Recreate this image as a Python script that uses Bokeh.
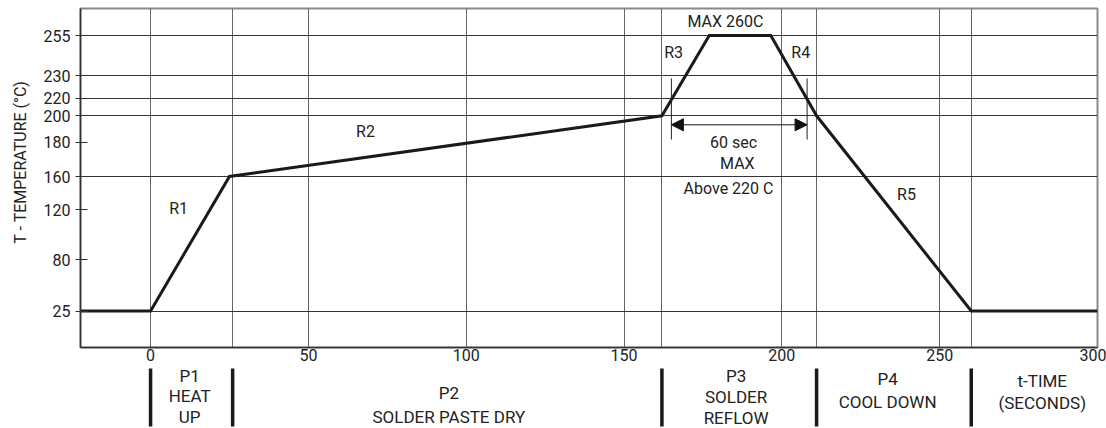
import numpy as np
from bokeh.plotting import figure
from bokeh.layouts import column
from bokeh.models import FixedTicker, Label, Arrow, NormalHead, Range1d, ColumnDataSource
from bokeh.embed import file_html
from bokeh.resources import INLINE

FONT = "Roboto"

# --- temperature axis: schematic (non-linear) scale ---
temp_ticks = [25, 80, 120, 160, 180, 200, 220, 230, 255]
temp_tick_pos = [36.5, 87.7, 137.7, 171.0, 205.3, 231.7, 249.3, 271.7, 312.0]
temp_grid = [25, 160, 200, 220, 230, 255]

# --- time axis ---
time_ticks = [0, 50, 100, 150, 200, 250, 300]
time_grid = [0, 26, 50, 100, 150, 162, 200, 211, 250, 260]

# --- reflow profile ---
profile_time = [-22.2, 0, 25, 162, 177, 196.5, 211, 260, 300]
profile_temp = [25, 25, 160, 200, 255, 255, 200, 25, 25]

# --- phases ---
phase_bounds = [0, 26, 162, 211, 260]
phase_labels = [
    (12.4, ["P1", "HEAT", "UP"]),
    (94.5, ["P2", "SOLDER PASTE DRY"]),
    (185.5, ["P3", "SOLDER", "REFLOW"]),
    (233.5, ["P4", "COOL DOWN"]),
    (282.5, ["t-TIME", "(SECONDS)"]),
]
phase_label_y = [[-28, -48.5, -69.5], [-45, -69], [-28.5, -49.5, -70.5], [-31, -54], [-33, -55.5]]

window_220 = [165.0, 208.0]   # time above 220 C (60 sec max)


def ty(t):
    return np.interp(t, temp_ticks, temp_tick_pos)


W = 1106
p = figure(width=W, height=366, output_backend="svg", toolbar_location=None,
           x_range=Range1d(-22.2, 300), y_range=Range1d(0, 339),
           min_border_left=80, min_border_right=9, min_border_top=8, min_border_bottom=19)
p.background_fill_color = "white"
p.border_fill_color = "white"
p.outline_line_color = "#8a8a8a"
p.outline_line_width = 2

# axes
ya = p.yaxis[0]
ya.ticker = FixedTicker(ticks=list(ty(temp_ticks)))
ya.major_label_overrides = {float(ty(t)): str(t) for t in temp_ticks}
ya.major_tick_out = 5
ya.major_tick_in = 7
ya.minor_tick_out = 0
ya.minor_tick_in = 0
ya.major_label_standoff = 5
ya.axis_line_color = "#333333"
ya.axis_line_width = 1.5
ya.major_tick_line_color = "#333333"
ya.major_label_text_font = FONT
ya.major_label_text_font_size = "16px"
ya.major_label_text_color = "#222222"
ya.axis_label = "\u00a0" * 8 + "T - TEMPERATURE (°C)"
ya.axis_label_text_font = FONT
ya.axis_label_text_font_size = "16px"
ya.axis_label_text_font_style = "normal"
ya.axis_label_text_color = "#222222"
ya.axis_label_standoff = 11

xa = p.xaxis[0]
xa.ticker = FixedTicker(ticks=time_ticks)
xa.major_tick_out = 0
xa.major_tick_in = 0
xa.minor_tick_out = 0
xa.minor_tick_in = 0
xa.major_label_standoff = 1
xa.axis_line_color = "#333333"
xa.axis_line_width = 1.5
xa.major_label_text_font = FONT
xa.major_label_text_font_size = "16px"
xa.major_label_text_color = "#222222"

# grids
p.ygrid.ticker = FixedTicker(ticks=list(ty(temp_grid)))
p.ygrid.grid_line_color = "#333333"
p.ygrid.grid_line_width = 1
p.xgrid.ticker = FixedTicker(ticks=time_grid)
p.xgrid.grid_line_color = "#666666"
p.xgrid.grid_line_width = 1

# profile
src = ColumnDataSource(dict(t=profile_time, y=list(ty(profile_temp))))
p.line("t", "y", source=src, line_color="#1a1a1a", line_width=3, line_join="miter")

# 60 sec window dimension
p.segment(x0=window_220, x1=window_220, y0=[269, 269], y1=[208, 208],
          line_color="#222222", line_width=1)
p.add_layout(Arrow(start=NormalHead(size=12, fill_color="#111111", line_color="#111111"),
                   end=NormalHead(size=12, fill_color="#111111", line_color="#111111"),
                   x_start=window_220[0], x_end=window_220[1], y_start=222.7, y_end=222.7,
                   line_color="#111111", line_width=1))


def lab(fig, x, y, text, size="16px"):
    fig.add_layout(Label(x=x, y=y, text=text, text_align="center", text_baseline="middle",
                         text_font=FONT, text_font_size=size, text_color="#222222"))


lab(p, 8.9, 139, "R1")
lab(p, 68.1, 216, "R2")
lab(p, 165.7, 295.3, "R3")
lab(p, 206.0, 295.0, "R4")
lab(p, 239.5, 153, "R5")
lab(p, 182.1, 326.3, "MAX 260C")
lab(p, 184.7, 205.3, "60 sec")
lab(p, 185.9, 184, "MAX")
lab(p, 183.1, 159.3, "Above 220 C")

# phase strip below the time axis (shares the time scale)
p2 = figure(width=W, height=62, output_backend="svg", toolbar_location=None,
            x_range=p.x_range, y_range=Range1d(-81, -19),
            min_border_left=80, min_border_right=9, min_border_top=0, min_border_bottom=0)
p2.axis.visible = False
p2.grid.visible = False
p2.outline_line_color = None
p2.background_fill_color = "white"
p2.border_fill_color = "white"

p2.segment(x0=phase_bounds, x1=phase_bounds, y0=[-21] * len(phase_bounds),
           y1=[-79] * len(phase_bounds), line_color="#1a1a1a", line_width=3.5)
for (x, lines), ys in zip(phase_labels, phase_label_y):
    for txt, yy in zip(lines, ys):
        lab(p2, x, yy, txt, size="17px")

layout = column(p, p2, spacing=0)
open("out.html", "w").write(file_html(layout, INLINE))
